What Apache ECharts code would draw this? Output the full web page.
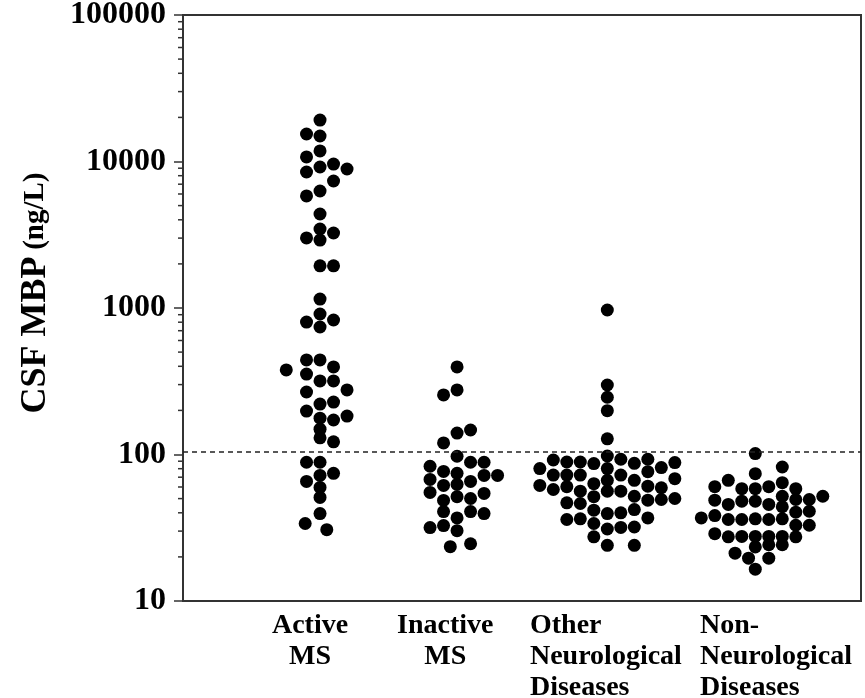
<!DOCTYPE html>
<html>
<head>
<meta charset="utf-8">
<script src="https://cdn.jsdelivr.net/npm/echarts@6/dist/echarts.min.js"></script>
<style>
  html, body { margin: 0; padding: 0; background: #fff; }
  #chart { width: 865px; height: 698px; }
</style>
</head>
<body>
<div id="chart"></div>
<script>
// groups along the x axis
const groupNames = [
  ['Active', 'MS'],
  ['Inactive', 'MS'],
  ['Other', 'Neurological', 'Diseases'],
  ['Non-', 'Neurological', 'Diseases']
]

// y axis (log) ticks and the dashed cut-off
const yTicks = [10, 100, 1000, 10000, 100000]
const cutoff = 104

// CSF MBP values (ng/L) and swarm column of each dot
const activeValues = [19190, 15410, 14930, 11800, 10740, 9170, 9610, 8890, 8480, 7360,
  5820, 6290, 4380, 3460, 3010, 2910, 3250, 1940, 1940, 1150,
  910, 802, 828, 742, 442, 442, 378, 354, 396, 318,
  318, 267, 276, 221, 228, 198, 177, 172, 183, 149,
  130, 122, 88.5, 88.5, 72, 74.4, 65.5, 59.6, 50.9, 39.5,
  33.8, 30.7]
const activeCols = [0, -1, 0, 0, -1, 0, 1, 2, -1, 1,
  -1, 0, 0, 0, -1, 0, 1, 0, 1, 0,
  0, -1, 1, 0, -1, 0, -2.5, -1, 1, 0,
  1, -1, 2, 0, 1, -1, 0, 1, 2, 0,
  0, 1, -1, 0, 0, 1, -1, 0, 0, 0,
  -1.1, 0.5]

const inactiveValues = [396, 255, 276, 140, 147, 120, 97.3, 83.1, 88.5, 88.5,
  76.7, 74.4, 67.6, 72, 72, 61.5, 62.5, 65.5, 55.1, 51.5,
  54.2, 48.6, 50.1, 40.8, 40.8, 39.5, 36.9, 31.7, 32.7, 30.2,
  23.5, 24.6]
const inactiveCols = [0, -1, 0, 0, 1, -1, 0, -2, 1, 2,
  -1, 0, -2, 2, 3, -1, 0, 1, -2, 0,
  2, -1, 1, -1, 1, 2, 0, -2, -1, 0,
  -0.5, 1]

const otherValues = [80.1, 61.5,
  91.7, 72.4, 57.7,
  88.9, 72.4, 60.3, 46.8, 36.0,
  88.9, 72.4, 56.2, 46.3, 36.4,
  86.7, 63.2, 51.5, 41.7, 33.8, 27.4,
  969, 298, 246, 199, 128, 97.7, 80.1, 66.6, 56.2, 39.5, 31.0, 24.0,
  92.8, 72.4, 56.2, 40.0, 31.8,
  87.1, 66.6, 51.9, 42.1, 32.0, 24.0,
  92.8, 76.4, 60.8, 48.8, 36.9,
  81.4, 59.3, 49.3,
  88.1, 68.4, 50.1]
const otherCols = [-5, -5,
  -4, -4, -4,
  -3, -3, -3, -3, -3,
  -2, -2, -2, -2, -2,
  -1, -1, -1, -1, -1, -1,
  0, 0, 0, 0, 0, 0, 0, 0, 0, 0, 0, 0,
  1, 1, 1, 1, 1,
  2, 2, 2, 2, 2, 2,
  3, 3, 3, 3, 3,
  4, 4, 4,
  5, 5, 5]

const nonValues = [36.9,
  60.3, 48.8, 38.3, 28.8,
  66.6, 45.6, 36.0, 27.4,
  21.2,
  58.4, 48.0, 36.0, 27.6,
  19.6,
  101.5, 74.0, 58.4, 48.0, 36.4, 27.6, 23.4, 16.5,
  60.3, 45.6, 36.0, 27.6, 24.2, 19.6,
  82.2, 64.2, 51.9, 44.0, 36.4, 27.6, 24.2,
  58.4, 49.3, 40.4, 32.9, 27.4,
  49.3, 41.0, 32.9,
  51.9]
const nonCols = [-4,
  -3, -3, -3, -3,
  -2, -2, -2, -2,
  -1.5,
  -1, -1, -1, -1,
  -0.5,
  0, 0, 0, 0, 0, 0, 0, 0,
  1, 1, 1, 1, 1, 1,
  2, 2, 2, 2, 2, 2, 2,
  3, 3, 3, 3, 3,
  4, 4, 4,
  5]

// x axis is measured in swarm columns (one dot width)
const groupCenters = [10.15, 20.3, 31.43, 42.39]
const labelAnchors = [6.59, 15.85, 25.7, 38.3]

const serif = '"Liberation Serif", "Times New Roman", serif'

function swarm(values, cols, g) {
  return values.map((v, i) => [groupCenters[g] + cols[i], v])
}

const minorTicks = []
for (let d = 10; d < 100000; d *= 10) {
  for (let k = 2; k <= 9; k++) minorTicks.push([0, d * k])
}

const chart = echarts.init(document.getElementById('chart'))

const dotStyle = {
  type: 'scatter',
  symbol: 'circle',
  symbolSize: 13,
  itemStyle: { color: '#000', opacity: 1 },
  silent: true
}

chart.setOption({
  animation: false,
  grid: {
    left: 183,
    right: 4,
    top: 15,
    bottom: 97,
    outerBoundsMode: 'none',
    containLabel: false,
    show: true,
    borderColor: '#333',
    borderWidth: 2
  },
  xAxis: {
    type: 'value',
    min: 0,
    max: 50.22,
    splitLine: { show: false },
    axisTick: { show: false },
    axisLine: { lineStyle: { color: '#333', width: 2 } },
    axisLabel: {
      customValues: labelAnchors,
      align: 'left',
      margin: 9,
      formatter: function(v) {
        let idx = 0
        labelAnchors.forEach((a, i) => {
          if (Math.abs(a - v) < Math.abs(labelAnchors[idx] - v)) idx = i
        })
        const key = idx < 2 ? 'c' : 'l'
        return groupNames[idx].map(s => '{' + key + '|' + s + '}').join('\n')
      },
      rich: {
        c: { align: 'center', fontFamily: serif, fontWeight: 'bold', fontSize: 28, lineHeight: 31, color: '#000' },
        l: { align: 'left', fontFamily: serif, fontWeight: 'bold', fontSize: 28, lineHeight: 31, color: '#000' }
      }
    }
  },
  yAxis: {
    type: 'log',
    logBase: 10,
    min: yTicks[0],
    max: yTicks[yTicks.length - 1],
    splitLine: { show: false },
    axisLine: { show: true, lineStyle: { color: '#333', width: 2 } },
    axisTick: { show: true, length: 9, lineStyle: { color: '#333', width: 1.5 } },
    axisLabel: {
      margin: 17,
      fontFamily: serif,
      fontWeight: 'bold',
      fontSize: 32,
      color: '#000',
      formatter: function(v) { return String(Math.round(v)) }
    },
    name: '{a|CSF MBP}  {b|(ng/L)}',
    nameLocation: 'middle',
    nameRotate: 90,
    nameGap: 129,
    nameTextStyle: {
      padding: [0, 0, 0, 30],
      rich: {
        a: { fontFamily: serif, fontWeight: 'bold', fontSize: 36, color: '#000' },
        b: { fontFamily: serif, fontWeight: 'bold', fontSize: 29, color: '#000' }
      }
    }
  },
  series: [
    Object.assign({}, dotStyle, {
      name: 'Active MS',
      data: swarm(activeValues, activeCols, 0),
      markLine: {
        silent: true,
        symbol: 'none',
        label: { show: false },
        lineStyle: { type: [5, 4], color: '#222', width: 1.5 },
        data: [{ yAxis: cutoff }]
      }
    }),
    Object.assign({}, dotStyle, { name: 'Inactive MS', data: swarm(inactiveValues, inactiveCols, 1) }),
    Object.assign({}, dotStyle, { name: 'Other Neurological Diseases', data: swarm(otherValues, otherCols, 2) }),
    Object.assign({}, dotStyle, { name: 'Non-Neurological Diseases', data: swarm(nonValues, nonCols, 3) }),
    {
      type: 'custom',
      clip: false,
      silent: true,
      data: minorTicks,
      renderItem: function(params, api) {
        const p = api.coord([0, api.value(1)])
        return {
          type: 'line',
          shape: { x1: p[0] - 5, y1: p[1], x2: p[0], y2: p[1] },
          style: { stroke: '#333', lineWidth: 1.5 }
        }
      }
    }
  ]
})
</script>
</body>
</html>
